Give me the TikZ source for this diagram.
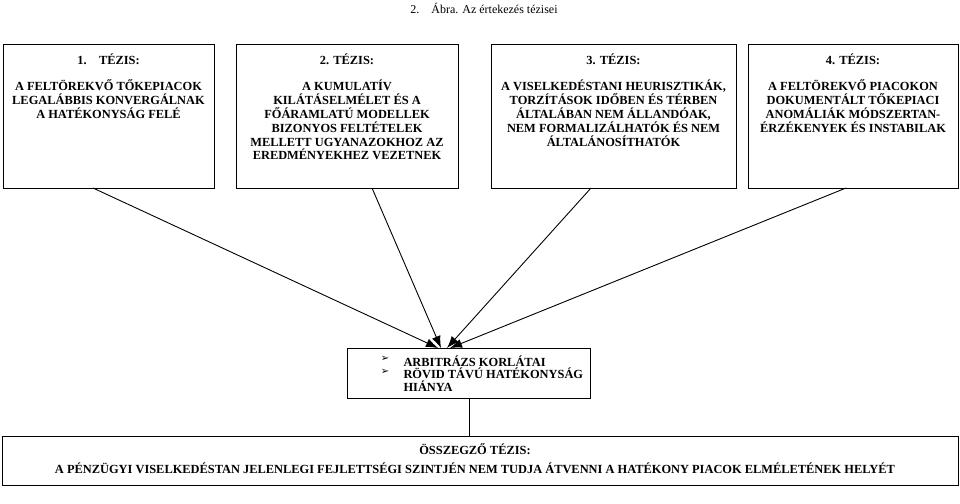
\documentclass[tikz,border=0pt]{standalone}
\usepackage{fontspec}
\setmainfont{Liberation Serif}
\newfontfamily\dejavu{DejaVu Sans}
\usetikzlibrary{arrows.meta}
\begin{document}
\begin{tikzpicture}[x=1pt,y=-1pt,
  txt/.style={font=\bfseries\fontsize{12.4}{13.8}\selectfont,align=center,anchor=north},
  con/.style={line width=0.9pt,-{Latex[length=12pt,width=9pt]}}]
\useasboundingbox (0,0) rectangle (960,503);
\node[font=\fontsize{12}{13}\selectfont] (title) at (484,8) {2.\quad Ábra. Az értekezés tézisei};
\draw[line width=0.9pt] (3,44) rectangle (214,188);
\draw[line width=0.9pt] (236,44) rectangle (458,188);
\draw[line width=0.9pt] (491,44) rectangle (736,188);
\draw[line width=0.9pt] (748,44) rectangle (958,188);
\coordinate (b1) at (93,188); \coordinate (b2) at (372,188);
\coordinate (b3) at (591,188); \coordinate (b4) at (846,188);
\node[txt] (t1) at (108.5,50) {1.\quad TÉZIS:\\[13pt]A FELTÖREKVŐ TŐKEPIACOK\\LEGALÁBBIS KONVERGÁLNAK\\A HATÉKONYSÁG FELÉ};
\node[txt] (t2) at (347,50) {2. TÉZIS:\\[13pt]A KUMULATÍV\\KILÁTÁSELMÉLET ÉS A\\FŐÁRAMLATÚ MODELLEK\\BIZONYOS FELTÉTELEK\\MELLETT UGYANAZOKHOZ AZ\\EREDMÉNYEKHEZ VEZETNEK};
\node[txt] (t3) at (613.5,50) {3. TÉZIS:\\[13pt]A VISELKEDÉSTANI HEURISZTIKÁK,\\TORZÍTÁSOK IDŐBEN ÉS TÉRBEN\\ÁLTALÁBAN NEM ÁLLANDÓAK,\\NEM FORMALIZÁLHATÓK ÉS NEM\\ÁLTALÁNOSÍTHATÓK};
\node[txt] (t4) at (853,50) {4. TÉZIS:\\[13pt]A FELTÖREKVŐ PIACOKON\\DOKUMENTÁLT TŐKEPIACI\\ANOMÁLIÁK MÓDSZERTAN-\\ÉRZÉKENYEK ÉS INSTABILAK};
\draw[line width=0.9pt] (347,348) rectangle (590,398);
\coordinate (m1) at (438,348); \coordinate (m2) at (441,348);
\coordinate (m3) at (447,348); \coordinate (m4) at (450,348);
\node[font=\bfseries\fontsize{12.4}{12.6}\selectfont,align=left,anchor=north west] (mt) at (400,352)
 {ARBITRÁZS KORLÁTAI\\RÖVID TÁVÚ HATÉKONYSÁG\\HIÁNYA};
\node[font=\dejavu\fontsize{10}{12}\selectfont] (k1) at (385,359) {➢};
\node[font=\dejavu\fontsize{10}{12}\selectfont] (k2) at (385,371.5) {➢};
\draw[con] (b1) -- (m1);
\draw[con] (b2) -- (m2);
\draw[con] (b3) -- (m3);
\draw[con] (b4) -- (m4);
\coordinate (mb) at (469,398);
\draw[line width=0.9pt] (2,436) rectangle (958,485);
\coordinate (bt) at (469,436);
\draw[line width=0.8pt] (mb) -- (bt);
\node[txt] (s) at (475,440) {ÖSSZEGZŐ TÉZIS:\\[5pt]A PÉNZÜGYI VISELKEDÉSTAN JELENLEGI FEJLETTSÉGI SZINTJÉN NEM TUDJA ÁTVENNI A HATÉKONY PIACOK ELMÉLETÉNEK HELYÉT};
\end{tikzpicture}
\end{document}
